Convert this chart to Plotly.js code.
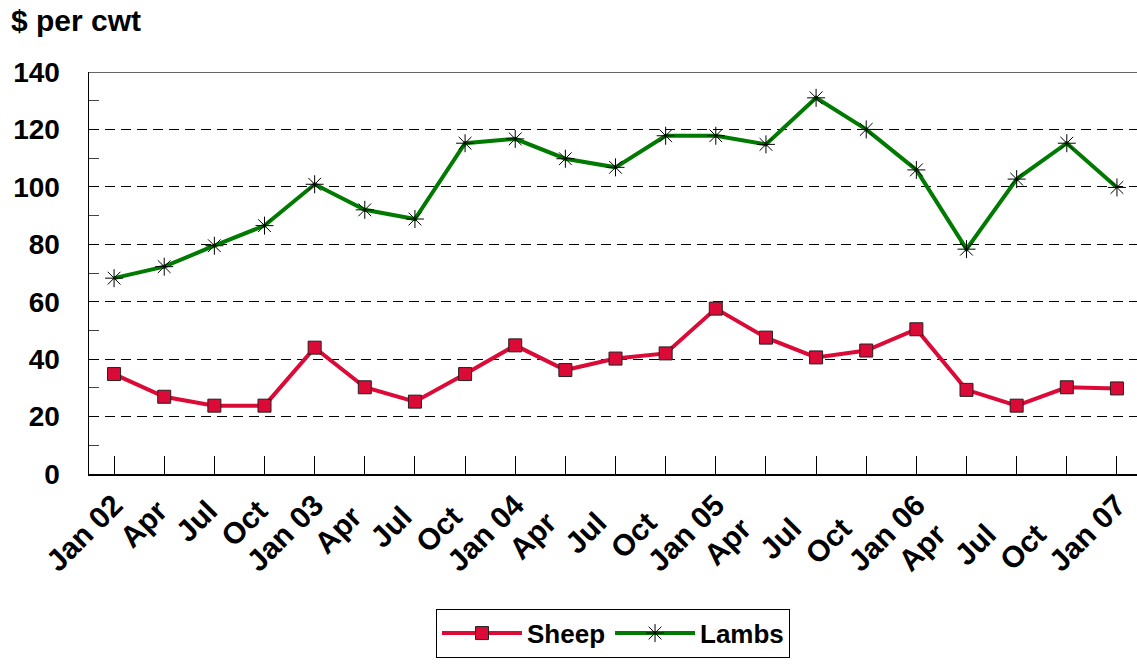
<!DOCTYPE html>
<html>
<head>
<meta charset="utf-8">
<script src="https://cdn.plot.ly/plotly-3.0.1.min.js"></script>
<style>html,body{margin:0;padding:0;background:#fff;}#chart{width:1137px;height:665px;}</style>
</head>
<body>
<div id="chart"></div>
<script>
const categories = ["Jan 02","Apr ","Jul ","Oct ","Jan 03","Apr  ","Jul  ","Oct  ","Jan 04","Apr   ","Jul   ","Oct   ","Jan 05","Apr    ","Jul    ","Oct    ","Jan 06","Apr     ","Jul     ","Oct     ","Jan 07"];
const sheep = [34.8,26.9,23.8,23.8,44,30.2,25.2,34.8,44.8,36.2,40.2,42,57.6,47.5,40.6,43,50.4,29.3,23.8,30.2,29.8];
const lambs = [68.2,72.2,79.5,86.5,100.9,92,88.8,115.2,116.7,109.8,106.8,117.8,117.8,114.8,131,120,105.9,78.3,102.7,115.2,99.8];
const yTicks = [0,20,40,60,80,100,120,140];

const font = {family:"Liberation Sans, Arial, sans-serif", color:"#000", size:24, weight:700};

const traces = [
  {x:categories, y:sheep, name:"Sheep", type:"scatter", mode:"lines+markers",
   line:{color:"#DC0A37", width:4},
   marker:{symbol:"square", size:13, color:"#DC0A37", line:{color:"#222", width:1}}},
  {x:categories, y:lambs, name:"Lambs", type:"scatter", mode:"lines+markers",
   line:{color:"#007A00", width:4},
   marker:{symbol:"asterisk-open", size:15, color:"#000", line:{color:"#000", width:1}}}
];

const layout = {
  width:1137, height:665,
  margin:{l:89, r:0, t:72, b:191},
  paper_bgcolor:"#fff", plot_bgcolor:"#fff",
  font:font,
  showlegend:true,
  legend:{orientation:"h", x:0.5, xanchor:"center", y:-0.335, yanchor:"top",
    bordercolor:"#000", borderwidth:1, font:{...font, size:26},
    itemwidth:80, tracegroupgap:0},
  annotations:[{text:"$ per cwt", xref:"paper", yref:"paper", x:-0.0765, y:1.082,
    xanchor:"left", yanchor:"bottom", showarrow:false, font:{...font, size:30}}],
  xaxis:{type:"category", range:[-0.5, 20.4], showline:true, linecolor:"#000", linewidth:1.5,
    ticks:"inside", ticklen:18, tickcolor:"#000", tickwidth:1,
    tickangle:-45, tickfont:{...font, size:30}, showgrid:false, zeroline:false,
    ticklabelstandoff:0, fixedrange:true},
  yaxis:{range:[0,140], tickvals:yTicks, ticktext:yTicks.map(String),
    showline:true, linecolor:"#000", linewidth:1.5, ticks:"", showgrid:true,
    gridcolor:"#000", griddash:"10px,6px", gridwidth:1, zeroline:false,
    tickfont:{...font, size:28}, ticklabelstandoff:22,
    minor:{tickvals:[10,30,50,70,90,110,130], ticks:"inside", ticklen:10, tickcolor:"#444", showgrid:false},
    fixedrange:true},
  shapes:[{type:"line", xref:"paper", yref:"y", x0:0, x1:1, y0:140, y1:140, line:{color:"#333", width:1.5}}]
};

Plotly.newPlot("chart", traces, layout, {displayModeBar:false, staticPlot:true});
</script>
</body>
</html>
